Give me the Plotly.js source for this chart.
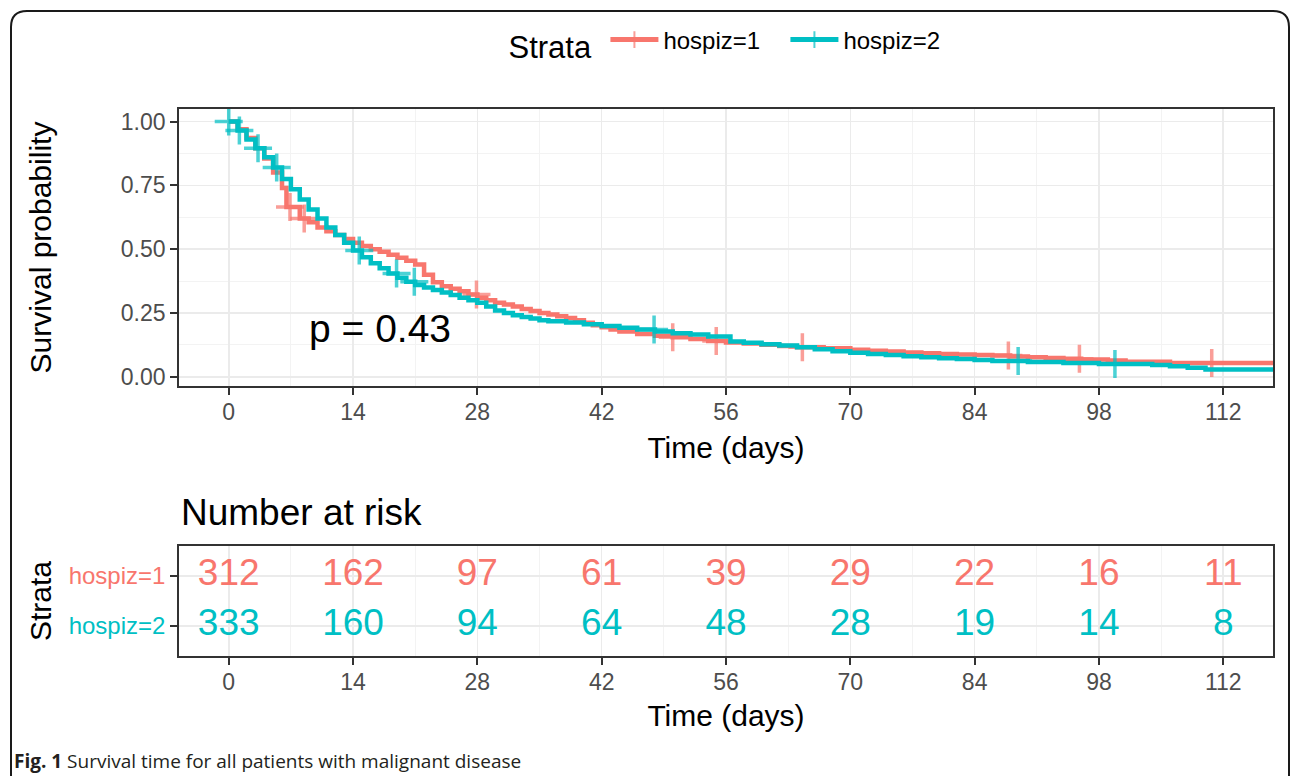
<!DOCTYPE html>
<html>
<head>
<meta charset="utf-8">
<script src="https://cdn.plot.ly/plotly-3.0.1.min.js"></script>
<style>html,body{margin:0;padding:0;background:#fff;}#chart{width:1292px;height:776px;}</style>
</head>
<body>
<div id="chart"></div>
<script>
// ---- Data ----
const strata = ['hospiz=1', 'hospiz=2'];

// Kaplan-Meier step points: time (days) and survival after the step
const hospiz1Time = [0, 1, 2, 3, 4, 5, 6, 6.5, 8, 9, 10, 11, 12, 13, 14, 15, 16, 17, 18, 19, 20, 21, 22, 23, 24, 25, 26, 27, 28, 29, 30, 31, 32, 33, 34, 35, 36, 37, 38, 39, 40, 41, 42, 43, 44, 46, 48, 50, 52, 54, 56, 58, 60, 62, 64, 67, 70, 72, 74, 76, 78, 80, 82, 84, 86, 88, 90, 92, 94, 96, 99, 101, 106, 120];
const hospiz1Surv = [1.00, 0.97, 0.935, 0.895, 0.855, 0.80, 0.74, 0.665, 0.62, 0.605, 0.585, 0.57, 0.555, 0.54, 0.525, 0.512, 0.50, 0.49, 0.478, 0.466, 0.455, 0.44, 0.40, 0.37, 0.355, 0.345, 0.335, 0.322, 0.31, 0.30, 0.29, 0.283, 0.275, 0.266, 0.258, 0.25, 0.244, 0.237, 0.23, 0.222, 0.212, 0.202, 0.194, 0.185, 0.177, 0.168, 0.161, 0.155, 0.148, 0.14, 0.134, 0.13, 0.126, 0.121, 0.116, 0.112, 0.106, 0.102, 0.099, 0.095, 0.092, 0.089, 0.087, 0.085, 0.083, 0.08, 0.077, 0.074, 0.071, 0.068, 0.064, 0.059, 0.054, 0.054];
const hospiz1Censor = [6.9, 8.5, 27.9, 50, 54.9, 64.6, 87.8, 95.8, 110.7];

const hospiz2Time = [0, 1, 2, 3, 4, 5, 6, 7, 8, 9, 10, 11, 12, 13, 14, 15, 16, 17, 18, 19, 20, 21, 22, 23, 24, 25, 26, 27, 28, 29, 30, 31, 32, 33, 34, 35, 36, 38, 40, 42, 44, 46, 48, 50, 52, 54, 56.5, 58, 60, 62, 64, 66, 68, 70, 72, 74, 76, 78, 80, 82, 84, 86, 90, 94, 98, 104, 106, 108, 110, 120];
const hospiz2Surv = [1.00, 0.965, 0.93, 0.895, 0.86, 0.82, 0.775, 0.735, 0.695, 0.655, 0.62, 0.585, 0.555, 0.525, 0.495, 0.468, 0.445, 0.425, 0.405, 0.388, 0.372, 0.36, 0.35, 0.34, 0.33, 0.32, 0.31, 0.30, 0.29, 0.275, 0.26, 0.25, 0.241, 0.234, 0.228, 0.222, 0.218, 0.213, 0.206, 0.199, 0.192, 0.185, 0.177, 0.171, 0.166, 0.158, 0.138, 0.133, 0.128, 0.123, 0.116, 0.108, 0.10, 0.094, 0.089, 0.085, 0.081, 0.077, 0.073, 0.07, 0.066, 0.062, 0.058, 0.054, 0.05, 0.046, 0.041, 0.035, 0.029, 0.027];
const hospiz2Censor = [0, 1.2, 3.3, 5.4, 14.7, 18.9, 20.9, 47.9, 88.9, 99.8];

// Number at risk table
const riskTimes = [0, 14, 28, 42, 56, 70, 84, 98, 112];
const hospiz1Risk = [312, 162, 97, 61, 39, 29, 22, 16, 11];
const hospiz2Risk = [333, 160, 94, 64, 48, 28, 19, 14, 8];

const pValueText = 'p = 0.43';
const xTicks = [0, 14, 28, 42, 56, 70, 84, 98, 112];

// ---- Styling ----
const RED = '#F8766D', TEAL = '#00BFC4';
const FONT = 'Liberation Sans, Arial, Helvetica, sans-serif';
const W = 1292, H = 776;
const M = {l: 179, r: 19, t: 109, b: 120};
const PW = W - M.l - M.r, PH = H - M.t - M.b;
const X = px => (px - M.l) / PW;
const Y = py => (H - M.b - py) / PH;

function survAt(times, surv, t) {
  let s = surv[0];
  for (let i = 0; i < times.length; i++) if (times[i] <= t) s = surv[i];
  return s;
}
function buildKM(times, surv, censor, color, name) {
  const pts = times.map((t, i) => ({t: t, s: surv[i], c: 0}));
  censor.forEach(ct => pts.push({t: ct, s: survAt(times, surv, ct), c: 1}));
  pts.sort((a, b) => (a.t - b.t) || (a.c - b.c));
  return {
    type: 'scatter', mode: 'lines+markers', name: name,
    x: pts.map(p => p.t), y: pts.map(p => p.s),
    xaxis: 'x', yaxis: 'y',
    line: {shape: 'hv', color: color, width: 4.5},
    marker: {symbol: 'cross-thin', size: pts.map(p => p.c ? 20 : 0),
             color: color, line: {color: color, width: 3.5}},
    hoverinfo: 'x+y', cliponaxis: true
  };
}

const traces = [
  buildKM(hospiz1Time, hospiz1Surv, hospiz1Censor, RED, strata[0]),
  buildKM(hospiz2Time, hospiz2Surv, hospiz2Censor, TEAL, strata[1]),
  {type: 'scatter', mode: 'text', x: riskTimes, y: riskTimes.map(() => 2),
   text: hospiz1Risk.map(String), xaxis: 'x2', yaxis: 'y2', showlegend: false,
   textfont: {family: FONT, size: 37, color: RED}, cliponaxis: false, hoverinfo: 'skip'},
  {type: 'scatter', mode: 'text', x: riskTimes, y: riskTimes.map(() => 1),
   text: hospiz2Risk.map(String), xaxis: 'x2', yaxis: 'y2', showlegend: false,
   textfont: {family: FONT, size: 37, color: TEAL}, cliponaxis: false, hoverinfo: 'skip'}
];

const gridMajor = '#EBEBEB', gridMinor = '#F3F3F3';
const baseX = {
  range: [-5.6, 117.6], tickmode: 'array', tickvals: xTicks, ticktext: xTicks.map(String),
  showgrid: true, gridcolor: gridMajor, gridwidth: 1.6,
  minor: {tickmode: 'array', tickvals: [7, 21, 35, 49, 63, 77, 91, 105], showgrid: true, gridcolor: gridMinor, gridwidth: 1, ticks: ''},
  ticks: 'outside', ticklen: 7, tickwidth: 2, tickcolor: '#333333',
  tickfont: {family: FONT, size: 23, color: '#4D4D4D'},
  ticklabelstandoff: -2,
  showline: true, mirror: true, linecolor: '#333333', linewidth: 1.8,
  zeroline: false, automargin: false, fixedrange: true
};

const layout = {
  width: W, height: H,
  margin: M,
  paper_bgcolor: '#ffffff', plot_bgcolor: '#ffffff',
  font: {family: FONT, color: '#000'},
  showlegend: true,
  legend: {
    orientation: 'h', x: X(736), y: Y(43), xanchor: 'center', yanchor: 'middle',
    title: {text: 'Strata\u2009', font: {family: FONT, size: 31, color: '#000'}, side: 'left'},
    font: {family: FONT, size: 24, color: '#000'},
    itemsizing: 'constant', itemwidth: 48, entrywidth: 117, entrywidthmode: 'pixels',
    bgcolor: 'rgba(0,0,0,0)'
  },
  xaxis: Object.assign({}, baseX, {
    domain: [0, 1], anchor: 'y',
    title: {text: 'Time (days)', font: {family: FONT, size: 30, color: '#000'}, standoff: 12}
  }),
  yaxis: {
    domain: [Y(386), 1], anchor: 'x', range: [-0.036, 1.049],
    tickmode: 'array', tickvals: [0, 0.25, 0.5, 0.75, 1], ticktext: ['0.00', '0.25', '0.50', '0.75', '1.00'],
    showgrid: true, gridcolor: gridMajor, gridwidth: 1.6,
    minor: {tickmode: 'array', tickvals: [0.125, 0.375, 0.625, 0.875], showgrid: true, gridcolor: gridMinor, gridwidth: 1, ticks: ''},
    ticks: 'outside', ticklen: 7, tickwidth: 2, tickcolor: '#333333',
    tickfont: {family: FONT, size: 23, color: '#4D4D4D'},
    showline: true, mirror: true, linecolor: '#333333', linewidth: 1.8,
    zeroline: false, automargin: false, fixedrange: true,
    title: {text: 'Survival probability', font: {family: FONT, size: 30, color: '#000'}, standoff: 60}
  },
  xaxis2: Object.assign({}, baseX, {
    domain: [0, 1], anchor: 'y2',
    title: {text: 'Time (days)', font: {family: FONT, size: 30, color: '#000'}, standoff: 10}
  }),
  yaxis2: {
    domain: [0, Y(546)], anchor: 'x2', range: [0.4, 2.6],
    tickmode: 'array', tickvals: [1, 2],
    ticktext: ['<span style="color:' + TEAL + '">' + strata[1] + '</span>',
               '<span style="color:' + RED + '">' + strata[0] + '</span>'],
    showgrid: true, gridcolor: gridMajor, gridwidth: 1.6,
    ticks: 'outside', ticklen: 7, tickwidth: 2, tickcolor: '#333333',
    tickfont: {family: FONT, size: 24, color: '#4D4D4D'},
    showline: true, mirror: true, linecolor: '#333333', linewidth: 1.8,
    zeroline: false, automargin: false, fixedrange: true,
    title: {text: 'Strata', font: {family: FONT, size: 30, color: '#000'}, standoff: 8}
  },
  annotations: [
    {text: pValueText, xref: 'x', yref: 'y', x: 17, y: 0.19, showarrow: false,
     xanchor: 'center', yanchor: 'middle', font: {family: FONT, size: 39, color: '#000'}},
    {text: 'Number at risk', xref: 'paper', yref: 'paper', x: X(179), y: Y(512), showarrow: false,
     xanchor: 'left', yanchor: 'middle', font: {family: FONT, size: 37, color: '#000'}},
    {text: '<b>Fig. 1</b> Survival time for all patients with malignant disease', xref: 'paper', yref: 'paper',
     x: X(12), y: Y(761), showarrow: false, xanchor: 'left', yanchor: 'middle',
     font: {family: 'Open Sans, Noto Sans, sans-serif', size: 19, color: '#231F20'}}
  ],
  shapes: [
    {type: 'path', xref: 'paper', yref: 'paper', layer: 'above',
     path: 'M' + X(11) + ',' + Y(800) + ' L' + X(11) + ',' + Y(27) +
           ' Q' + X(11) + ',' + Y(11) + ' ' + X(27) + ',' + Y(11) +
           ' L' + X(1273) + ',' + Y(11) +
           ' Q' + X(1289) + ',' + Y(11) + ' ' + X(1289) + ',' + Y(27) +
           ' L' + X(1289) + ',' + Y(800),
     line: {color: '#1A1A1A', width: 2}}
  ]
};

Plotly.newPlot('chart', traces, layout, {staticPlot: true, displayModeBar: false});
</script>
</body>
</html>
